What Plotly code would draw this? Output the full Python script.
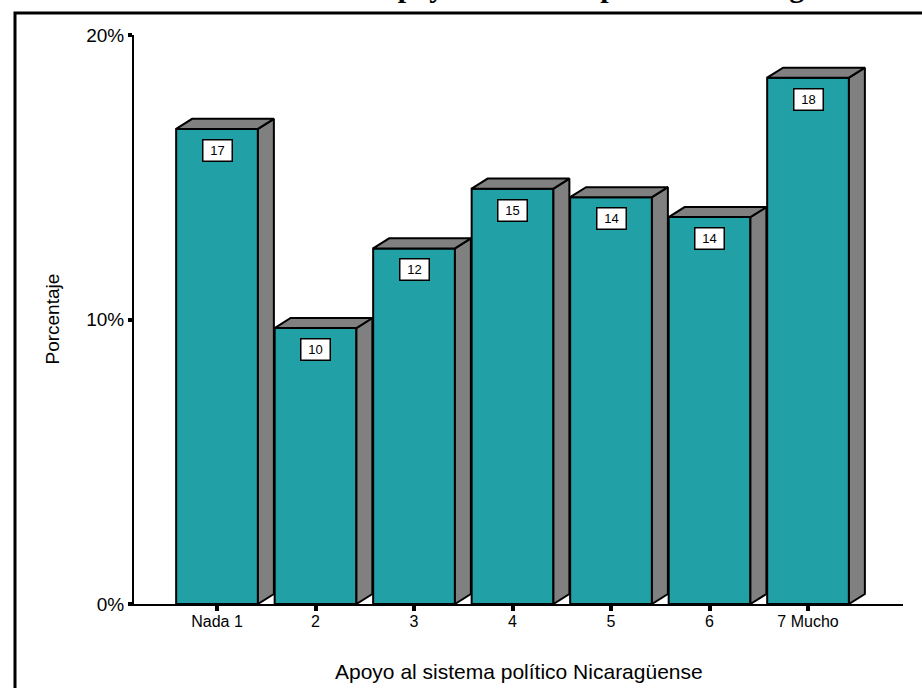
import plotly.graph_objects as go

# ---- data ----
categories = ["Nada 1", "2", "3", "4", "5", "6", "7 Mucho"]
positions = [1, 2, 3, 4, 5, 6, 7]
values = [16.7, 9.7, 12.5, 14.6, 14.3, 13.6, 18.5]
bar_labels = ["17", "10", "12", "15", "14", "14", "18"]
y_tickvals = [0, 10, 20]
y_ticktext = ["0%", "10%", "20%"]

# ---- style constants ----
FRONT = "#21A0A6"
SIDE = "#808080"
W = 0.83      # bar width (category units)
DX = 0.162    # depth offset in x (category units)
DY = 0.352    # depth offset in y (percent units)

side_x, side_y, top_x, top_y = [], [], [], []
for xc, v in zip(positions, values):
    r = xc + W / 2
    l = xc - W / 2
    side_x += [r, r, r + DX, r + DX, r, None]
    side_y += [0, v, v + DY, DY, 0, None]
    top_x += [l, r, r + DX, l + DX, l, None]
    top_y += [v, v, v + DY, v + DY, v, None]

fig = go.Figure()
fig.add_trace(go.Scatter(x=side_x, y=side_y, mode="lines", fill="toself",
                         fillcolor=SIDE, line=dict(color="black", width=2),
                         hoverinfo="skip", showlegend=False))
fig.add_trace(go.Scatter(x=top_x, y=top_y, mode="lines", fill="toself",
                         fillcolor=SIDE, line=dict(color="black", width=2),
                         hoverinfo="skip", showlegend=False))
fig.add_trace(go.Bar(x=positions, y=values, width=W,
                     marker=dict(color=FRONT, line=dict(color="black", width=2)),
                     showlegend=False))

annotations = []
for xc, v, t in zip(positions, values, bar_labels):
    annotations.append(dict(x=xc, y=v, xref="x", yref="y", text=t, showarrow=False,
                            yanchor="top", yshift=-10, width=28, height=20,
                            bgcolor="white", bordercolor="black", borderwidth=1.5,
                            borderpad=0,
                            font=dict(family="Liberation Sans, Arial", size=13, color="black")))

annotations.append(dict(x=0.5, y=-0.1195, xref="paper", yref="paper",
                        text="Apoyo al sistema político Nicaragüense", showarrow=False,
                        xanchor="center", yanchor="middle",
                        font=dict(family="Liberation Sans, Arial", size=21, color="black")))
annotations.append(dict(x=-0.1066, y=0.5, xref="paper", yref="paper",
                        text="Porcentaje", showarrow=False, textangle=-90,
                        xanchor="center", yanchor="middle",
                        font=dict(family="Liberation Sans, Arial", size=19, color="black")))
# title (mostly cut off at the top of the reference)
annotations.append(dict(x=(375 - 134) / 769, y=(604 - 4) / 569, xref="paper", yref="paper",
                        text="<b>Apoyo al sistema político Nicaragüense</b>", showarrow=False,
                        xanchor="left", yanchor="bottom", borderpad=0,
                        font=dict(family="Liberation Serif, Times New Roman", size=30, color="black")))

fig.update_layout(
    width=922, height=688,
    margin=dict(l=134, r=19, t=35, b=84),
    paper_bgcolor="white", plot_bgcolor="white",
    annotations=annotations,
    shapes=[dict(type="rect", xref="paper", yref="paper",
                 x0=(15 - 134) / 769, x1=1.2, y0=-0.3, y1=(604 - 13) / 569,
                 line=dict(color="black", width=3), fillcolor="rgba(0,0,0,0)", layer="below")],
    xaxis=dict(range=[0.157, 7.964], tickvals=positions, ticktext=categories,
               showline=True, linecolor="black", linewidth=2, showgrid=False, zeroline=False,
               ticks="outside", ticklen=5, tickwidth=4, tickcolor="black",
               ticklabelstandoff=-3,
               tickfont=dict(family="Liberation Sans, Arial", size=16, color="black")),
    yaxis=dict(range=[0, 20], tickvals=y_tickvals, ticktext=y_ticktext,
               showline=True, linecolor="black", linewidth=2, showgrid=False, zeroline=False,
               ticks="outside", ticklen=4, tickwidth=4, tickcolor="black",
               tickfont=dict(family="Liberation Sans, Arial", size=19, color="black")),
)

fig.write_html("out.html", config={"displayModeBar": False},
               post_script="document.body.style.margin='0';")
